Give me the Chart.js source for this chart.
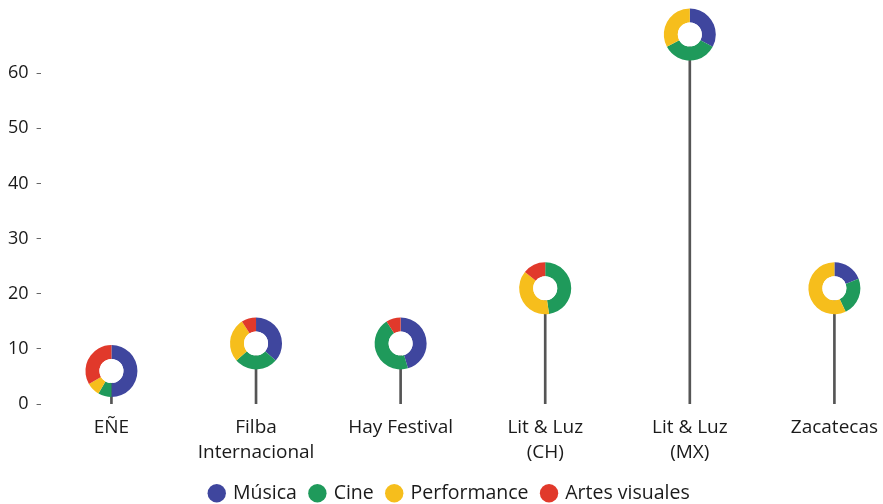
<!DOCTYPE html>
<html>
<head>
<meta charset="utf-8">
<script src="https://cdn.jsdelivr.net/npm/chart.js@4"></script>
<style>
  html, body { margin: 0; padding: 0; background: #fff; }
  #wrap { width: 883px; height: 504px; }
</style>
</head>
<body>
<div id="wrap"><canvas id="chart"></canvas></div>
<script>
// festivals along the x axis
var categories = ["EÑE", ["Filba", "Internacional"], "Hay Festival", ["Lit & Luz", "(CH)"], ["Lit & Luz", "(MX)"], "Zacatecas"];
// height of each lollipop
var totals = [6, 11, 11, 21, 67, 21];
// share of each activity (donut heads)
var musica = [3, 4, 5, 0, 22, 4];
var cine = [0.5, 3, 5, 10, 23, 5];
var performance = [0.5, 3, 0, 8, 22, 12];
var artes = [2, 1, 1, 3, 0, 0];
var seriesNames = ["Música", "Cine", "Performance", "Artes visuales"];
var seriesColors = ["#3f469e", "#1f9a5b", "#f6be1c", "#e1392b"];
var yTicks = [0, 10, 20, 30, 40, 50, 60];

var font = "'Open Sans', sans-serif";

// draws the donut on top of each stem
var donutHeads = {
  id: "donutHeads",
  afterLayout: function(chart) {
    // legend sits a bit right of centre in the original
    chart.legend.left += 14;
    chart.legend.right += 14;
  },
  afterDatasetsDraw: function(chart) {
    var ctx = chart.ctx;
    var xs = chart.scales.x, ys = chart.scales.y;
    var series = [musica, cine, performance, artes];
    var rOut = 26, rIn = 12;
    for (var i = 0; i < totals.length; i++) {
      var cx = xs.getPixelForValue(i);
      var cy = ys.getPixelForValue(totals[i]);
      var sum = 0;
      series.forEach(function(s) { sum += s[i]; });
      var start = -Math.PI / 2;
      series.forEach(function(s, k) {
        if (!s[i]) return;
        var end = start + s[i] / sum * Math.PI * 2;
        ctx.beginPath();
        ctx.arc(cx, cy, rOut, start, end);
        ctx.arc(cx, cy, rIn, end, start, true);
        ctx.closePath();
        ctx.fillStyle = seriesColors[k];
        ctx.fill();
        start = end;
      });
      ctx.beginPath();
      ctx.arc(cx, cy, rIn, 0, Math.PI * 2);
      ctx.fillStyle = "#fff";
      ctx.fill();
    }
  }
};

new Chart(document.getElementById("chart"), {
  type: "bar",
  data: {
    datasets: [{
      label: "total",
      data: totals.map(function(v, i) { return { x: i, y: v }; }),
      backgroundColor: "#555",
      barThickness: 2
    }]
  },
  options: {
    responsive: true,
    maintainAspectRatio: false,
    animation: false,
    layout: { padding: { left: 0, right: 11, top: 29, bottom: -9 } },
    plugins: {
      tooltip: { enabled: false },
      legend: {
        position: "bottom",
        labels: {
          usePointStyle: true,
          pointStyle: "circle",
          boxWidth: 13,
          boxHeight: 13,
          padding: 14,
          color: "#1a1a1a",
          font: { family: font, size: 19.5 },
          generateLabels: function() {
            return seriesNames.map(function(n, k) {
              return { text: n, fillStyle: seriesColors[k], strokeStyle: seriesColors[k], lineWidth: 0, pointStyle: "circle", fontColor: "#1a1a1a" };
            });
          }
        }
      }
    },
    scales: {
      x: {
        type: "linear",
        offset: false,
        min: -0.49,
        max: 5.26,
        grid: { display: false },
        border: { display: false },
        afterFit: function(scale) { scale.height += 2; },
        ticks: {
          stepSize: 1,
          includeBounds: false,
          color: "#1a1a1a",
          font: { family: font, size: 19, lineHeight: 1.3 },
          maxRotation: 0,
          autoSkip: false,
          padding: 3,
          callback: function(v) { return categories[v]; }
        }
      },
      y: {
        min: 0,
        max: 68,
        afterBuildTicks: function(scale) {
          scale.ticks = yTicks.map(function(v) { return { value: v }; });
        },
        grid: { drawOnChartArea: false, drawTicks: true, tickLength: 4, tickColor: "#666" },
        border: { display: false },
        ticks: {
          color: "#1a1a1a",
          padding: 8,
          font: { family: font, size: 18 }
        }
      }
    }
  },
  plugins: [donutHeads]
});
</script>
</body>
</html>
